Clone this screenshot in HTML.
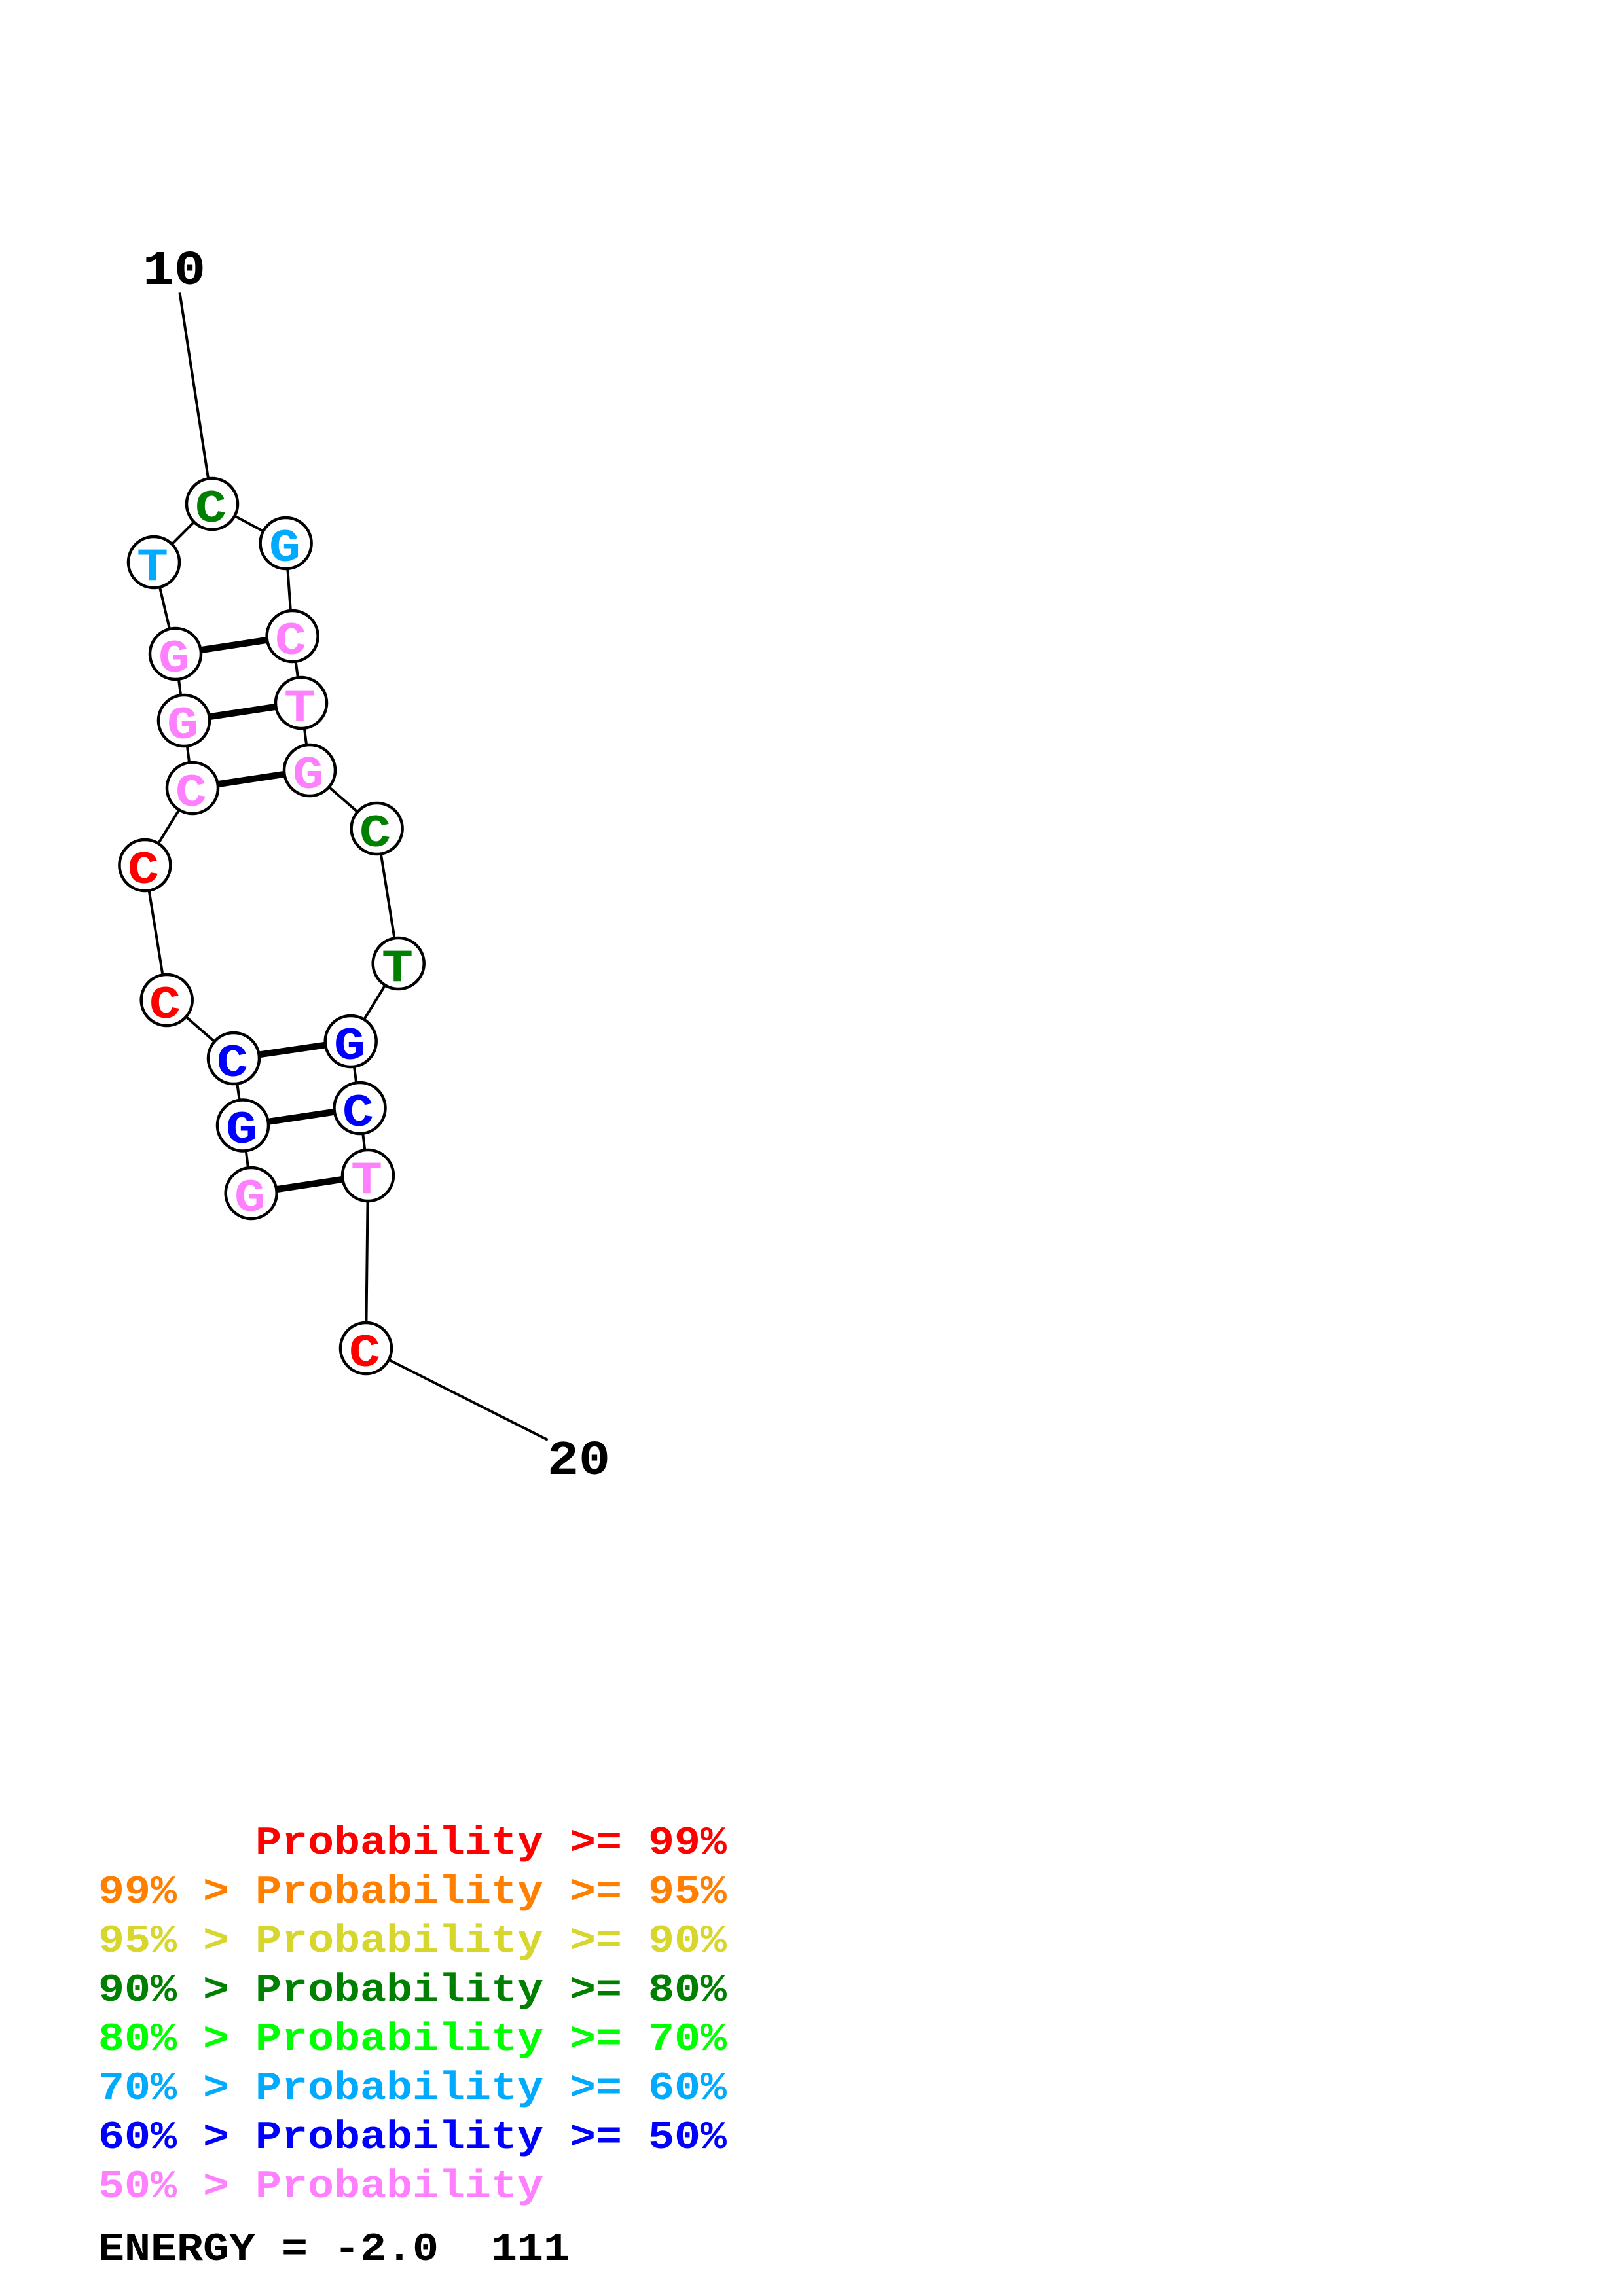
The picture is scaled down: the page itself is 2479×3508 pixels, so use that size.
<!DOCTYPE html>
<html><head><meta charset="utf-8"><style>
html,body{margin:0;padding:0;background:#fff}
svg{display:block}
.n{font:bold 80px "Liberation Mono",monospace;text-anchor:middle}
.l{font:bold 66.67px "Liberation Mono",monospace;white-space:pre}
</style></head><body>
<svg width="2479" height="3508" viewBox="0 0 2479 3508" xmlns="http://www.w3.org/2000/svg">
<rect width="2479" height="3508" fill="#fff"/>
<g stroke="#000" stroke-width="4" fill="none">
<path d="M274.4 446.4L324 770M324 770L235 859M324 770L436.6 830M235 859L268 999M436.6 830L446.6 972M268 999L281 1101L294 1204L221.4 1322L254.7 1528L357 1617L371 1719.5L383.7 1823M446.6 972L460 1074L473 1177L575.6 1266L608.7 1472L535.7 1591L549.5 1693L562 1796L559 2060L836.7 2200"/>
</g>
<g stroke="#000" stroke-width="10" fill="none">
<path d="M268 999L446.6 972M281 1101L460 1074M294 1204L473 1177M357 1617L535.7 1591M371 1719.5L549.5 1693M383.7 1823L562 1796"/>
</g>
<g fill="#fff" stroke="#000" stroke-width="4.5">
<circle cx="324" cy="770" r="39"/><circle cx="235" cy="859" r="39"/><circle cx="436.6" cy="830" r="39"/>
<circle cx="268" cy="999" r="39"/><circle cx="446.6" cy="972" r="39"/><circle cx="281" cy="1101" r="39"/>
<circle cx="460" cy="1074" r="39"/><circle cx="294" cy="1204" r="39"/><circle cx="473" cy="1177" r="39"/>
<circle cx="221.4" cy="1322" r="39"/><circle cx="575.6" cy="1266" r="39"/><circle cx="254.7" cy="1528" r="39"/>
<circle cx="608.7" cy="1472" r="39"/><circle cx="535.7" cy="1591" r="39"/><circle cx="357" cy="1617" r="39"/>
<circle cx="549.5" cy="1693" r="39"/><circle cx="371" cy="1719.5" r="39"/><circle cx="562" cy="1796" r="39"/>
<circle cx="383.7" cy="1823" r="39"/><circle cx="559" cy="2060" r="39"/>
</g>
<text class="n" transform="translate(322,797) scale(1,.88)" fill="#008000">C</text>
<text class="n" transform="translate(233,886) scale(1,.88)" fill="#00aaff">T</text>
<text class="n" transform="translate(435,857) scale(1,.88)" fill="#00aaff">G</text>
<text class="n" transform="translate(266,1026) scale(1,.88)" fill="#ff80ff">G</text>
<text class="n" transform="translate(444,999) scale(1,.88)" fill="#ff80ff">C</text>
<text class="n" transform="translate(279,1128) scale(1,.88)" fill="#ff80ff">G</text>
<text class="n" transform="translate(458,1101) scale(1,.88)" fill="#ff80ff">T</text>
<text class="n" transform="translate(292,1231) scale(1,.88)" fill="#ff80ff">C</text>
<text class="n" transform="translate(471,1204) scale(1,.88)" fill="#ff80ff">G</text>
<text class="n" transform="translate(219,1349) scale(1,.88)" fill="#ff0000">C</text>
<text class="n" transform="translate(573,1293) scale(1,.88)" fill="#008000">C</text>
<text class="n" transform="translate(252,1555) scale(1,.88)" fill="#ff0000">C</text>
<text class="n" transform="translate(607,1499) scale(1,.88)" fill="#008000">T</text>
<text class="n" transform="translate(534,1618) scale(1,.88)" fill="#0000ff">G</text>
<text class="n" transform="translate(355,1644) scale(1,.88)" fill="#0000ff">C</text>
<text class="n" transform="translate(547,1720) scale(1,.88)" fill="#0000ff">C</text>
<text class="n" transform="translate(369,1746) scale(1,.88)" fill="#0000ff">G</text>
<text class="n" transform="translate(560,1823) scale(1,.88)" fill="#ff80ff">T</text>
<text class="n" transform="translate(382,1850) scale(1,.88)" fill="#ff80ff">G</text>
<text class="n" transform="translate(557,2087) scale(1,.88)" fill="#ff0000">C</text>
<text class="n" transform="translate(266,434) scale(1,.93)" fill="#000">10</text>
<text class="n" transform="translate(884,2252) scale(1,.93)" fill="#000">20</text>
<text class="l" transform="translate(150,2832) scale(1,.9)" fill="#ff0000" xml:space="preserve">      Probability &gt;= 99%</text>
<text class="l" transform="translate(150,2907) scale(1,.9)" fill="#ff8000" xml:space="preserve">99% &gt; Probability &gt;= 95%</text>
<text class="l" transform="translate(150,2982) scale(1,.9)" fill="#d6d62c" xml:space="preserve">95% &gt; Probability &gt;= 90%</text>
<text class="l" transform="translate(150,3057) scale(1,.9)" fill="#008000" xml:space="preserve">90% &gt; Probability &gt;= 80%</text>
<text class="l" transform="translate(150,3132) scale(1,.9)" fill="#00ff00" xml:space="preserve">80% &gt; Probability &gt;= 70%</text>
<text class="l" transform="translate(150,3207) scale(1,.9)" fill="#00aaff" xml:space="preserve">70% &gt; Probability &gt;= 60%</text>
<text class="l" transform="translate(150,3282) scale(1,.9)" fill="#0000ff" xml:space="preserve">60% &gt; Probability &gt;= 50%</text>
<text class="l" transform="translate(150,3357) scale(1,.9)" fill="#ff80ff" xml:space="preserve">50% &gt; Probability</text>
<text class="l" transform="translate(150,3453) scale(1,.9)" fill="#000" xml:space="preserve">ENERGY = -2.0  111</text>
</svg>
</body></html>
